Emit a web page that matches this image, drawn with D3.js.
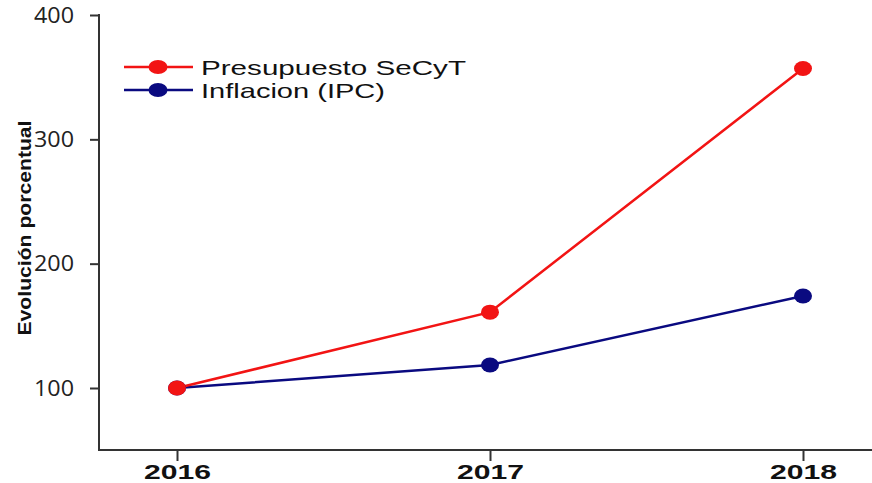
<!DOCTYPE html>
<html><head><meta charset="utf-8">
<script src="https://cdn.jsdelivr.net/npm/d3@7"></script>
<style>body{margin:0;background:#fff}svg{display:block}</style>
</head><body>
<script>
const years = ["2016", "2017", "2018"];
const presupuesto = [100, 161, 357];
const inflacion = [100, 118.5, 174];
const yTicks = [100, 200, 300, 400];
const seriesNames = ["Presupuesto SeCyT", "Inflacion (IPC)"];
const seriesColors = ["#f21414", "#0a0a80"];

const W = 872, H = 483;
const svg = d3.select("body").append("svg").attr("width", W).attr("height", H);

const x = d3.scalePoint().domain(years).range([177, 803]);
const y = d3.scaleLinear().domain([100, 400]).range([388, 15]);
const yBottom = 450, xLeft = 99;

// y axis
const yAxis = svg.append("g").attr("transform", `translate(${xLeft},0)`)
  .call(d3.axisLeft(y).tickValues(yTicks).tickSize(9).tickPadding(16));
yAxis.select(".domain").remove();
yAxis.append("line").attr("x1", 0).attr("x2", 0).attr("y1", y(400) - 1).attr("y2", yBottom + 1)
  .attr("stroke", "#333").attr("stroke-width", 2);
yAxis.selectAll(".tick line").attr("stroke", "#333").attr("stroke-width", 2);
yAxis.selectAll(".tick text").attr("fill", "#222")
  .attr("textLength", 40).attr("lengthAdjust", "spacingAndGlyphs")
  .style("font-family", "'Open Sans', 'Liberation Sans', sans-serif").style("font-size", "22px");

// x axis
const xAxis = svg.append("g").attr("transform", `translate(0,${yBottom})`)
  .call(d3.axisBottom(x).tickSize(11).tickPadding(6));
xAxis.select(".domain").remove();
xAxis.append("line").attr("x1", xLeft - 1).attr("x2", W).attr("y1", 0).attr("y2", 0)
  .attr("stroke", "#333").attr("stroke-width", 2);
xAxis.selectAll(".tick line").attr("stroke", "#333").attr("stroke-width", 2);
xAxis.selectAll(".tick text").attr("fill", "#111")
  .attr("dy", null).attr("y", 29)
  .attr("textLength", 67).attr("lengthAdjust", "spacingAndGlyphs")
  .style("font-family", "'Liberation Sans', Arial, sans-serif").style("font-size", "20px").style("font-weight", "bold");

// y label
svg.append("text").attr("transform", "translate(31,228) rotate(-90)")
  .attr("text-anchor", "middle")
  .attr("textLength", 215).attr("lengthAdjust", "spacingAndGlyphs")
  .style("font-family", "'Liberation Sans', Arial, sans-serif").style("font-size", "19px").style("font-weight", "bold")
  .attr("fill", "#111").text("Evolución porcentual");

// series
const series = [presupuesto, inflacion];
const line = d3.line().x((d, i) => x(years[i])).y(d => y(d));
[1, 0].forEach(s => {
  svg.append("path").datum(series[s]).attr("d", line)
    .attr("fill", "none").attr("stroke", seriesColors[s]).attr("stroke-width", 2.5);
});
[1, 0].forEach(s => {
  svg.selectAll(null).data(series[s]).enter().append("ellipse")
    .attr("cx", (d, i) => x(years[i])).attr("cy", d => y(d))
    .attr("rx", 9).attr("ry", 7.5).attr("fill", seriesColors[s]);
});

// legend
const legY = [67, 90];
const legLen = [265, 184];
seriesNames.forEach((name, i) => {
  const g = svg.append("g");
  g.append("line").attr("x1", 124).attr("x2", 193).attr("y1", legY[i]).attr("y2", legY[i])
    .attr("stroke", seriesColors[i]).attr("stroke-width", 2.5);
  g.append("ellipse").attr("cx", 158).attr("cy", legY[i]).attr("rx", 9.5).attr("ry", 7).attr("fill", seriesColors[i]);
  g.append("text").attr("x", 201).attr("y", legY[i] + 8)
    .attr("textLength", legLen[i]).attr("lengthAdjust", "spacingAndGlyphs")
    .style("font-family", "'Liberation Sans', Arial, sans-serif").style("font-size", "21px")
    .attr("fill", "#111").text(name);
});
</script>
</body></html>
